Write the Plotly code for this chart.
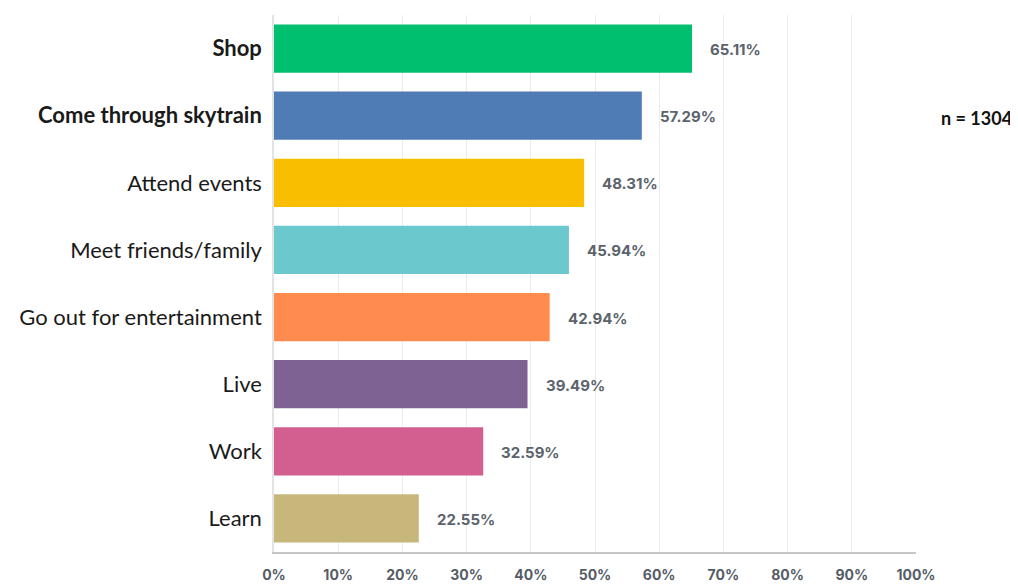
import plotly.graph_objects as go

categories = ["Shop", "Come through skytrain", "Attend events", "Meet friends/family",
              "Go out for entertainment", "Live", "Work", "Learn"]
values = [65.11, 57.29, 48.31, 45.94, 42.94, 39.49, 32.59, 22.55]
bold = [True, True, False, False, False, False, False, False]
colors = ["#00BF6F", "#507CB6", "#F9BE00", "#6BC8CD", "#FF8B4F", "#7F6294", "#D25F90", "#C8B77A"]
tick_vals = [0, 10, 20, 30, 40, 50, 60, 70, 80, 90, 100]
tick_text = [f"{v}%" for v in tick_vals]
n_label = "n = 1304"

cats_r = categories[::-1]
vals_r = values[::-1]
cols_r = colors[::-1]
bold_r = bold[::-1]
ticktext_y = [f"<b>{c}</b>" if b else c for c, b in zip(cats_r, bold_r)]

# page body has an 8px default margin; size the figure to fit the window
W, H = 1010, 576
L, T, PW, PH = 266, 7, 642, 537

fig = go.Figure()
fig.add_trace(go.Bar(
    x=vals_r, y=list(range(len(cats_r))), orientation="h",
    marker=dict(color=cols_r, line=dict(width=0)),
    hoverinfo="skip",
))

for i, v in enumerate(vals_r):
    fig.add_annotation(x=v, y=i, text=f"<b>{v:.2f}%</b>", showarrow=False,
                       xanchor="left", xshift=16, yshift=-1,
                       font=dict(family="Inter, Roboto, sans-serif", size=15, color="#5B636C"))

fig.add_annotation(xref="paper", yref="paper", x=1.0 + 23/PW, y=(PH - (118 - 8 - T)) / PH,
                   text=f"<b>{n_label}</b>", showarrow=False, xanchor="left", yanchor="middle",
                   font=dict(family="Lato, sans-serif", size=18, color="#111111"))

fig.update_layout(
    width=W, height=H,
    margin=dict(l=L, r=W - L - PW, t=T, b=H - T - PH, autoexpand=False),
    paper_bgcolor="white", plot_bgcolor="white",
    bargap=0.28, showlegend=False,
    xaxis=dict(range=[0, 100], tickvals=tick_vals, ticktext=[f"<b>{t}</b>" for t in tick_text],
               showgrid=True, gridcolor="#EBEBEB", gridwidth=1,
               zeroline=False, showline=True, linecolor="#C8C8C8", linewidth=1.5,
               ticks="outside", ticklen=9, tickcolor="rgba(0,0,0,0)",
               tickfont=dict(family="Inter, Roboto, sans-serif", size=14, color="#555C66"),
               fixedrange=True),
    yaxis=dict(range=[-0.5, 7.5], tickvals=list(range(len(cats_r))), ticktext=ticktext_y,
               showgrid=False, zeroline=False, showline=True, linecolor="#E3E3E3", linewidth=1.5,
               ticks="outside", ticklen=6, tickcolor="rgba(0,0,0,0)",
               tickfont=dict(family="Lato, sans-serif", size=22, color="#1A1A1A"),
               fixedrange=True),
)

fig.write_html("out.html")
